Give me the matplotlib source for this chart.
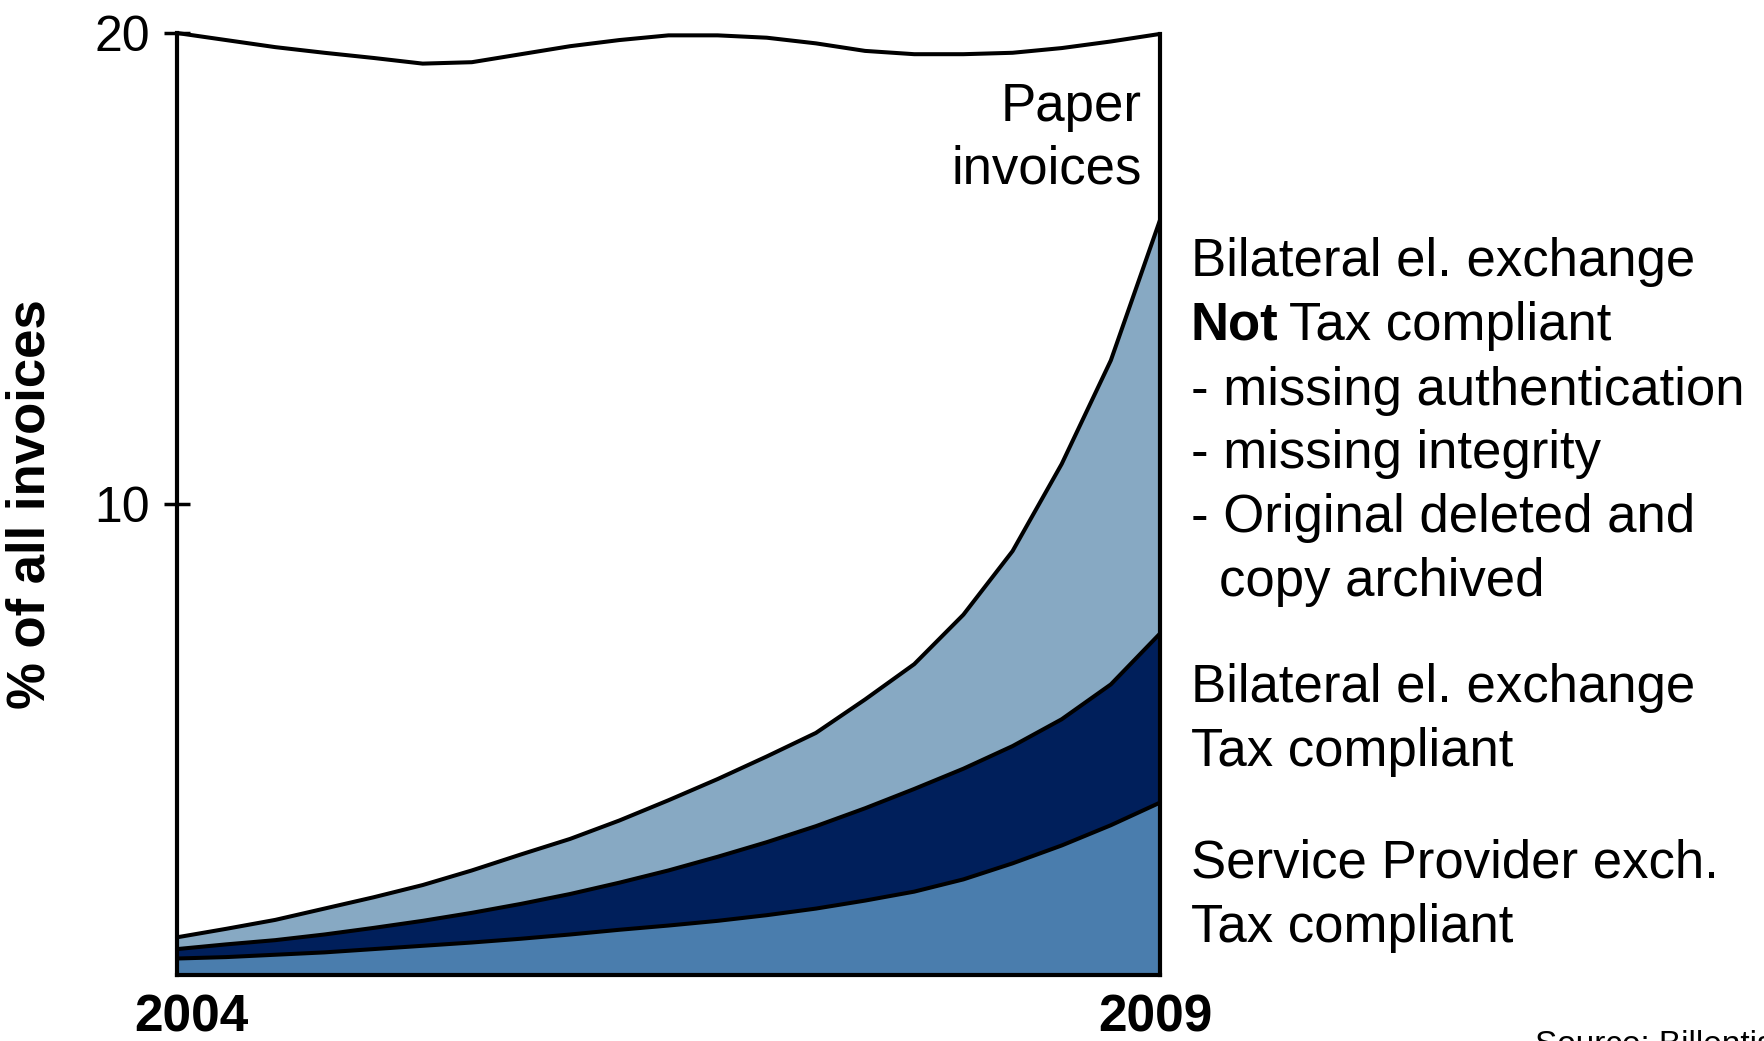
import numpy as np
import matplotlib.pyplot as plt
import matplotlib.transforms as mtransforms

plt.rcParams['font.family'] = ['Liberation Sans', 'DejaVu Sans']

# quarter-year steps from 2004 to 2009
years = np.linspace(2004, 2009, 21)

# layer heights (% of all invoices), bottom to top
service_provider = [0.35, 0.38, 0.43, 0.48, 0.55, 0.62, 0.69, 0.77, 0.86, 0.96, 1.05,
                    1.15, 1.27, 1.41, 1.58, 1.77, 2.03, 2.37, 2.75, 3.18, 3.66]
bilateral_compliant = [0.20, 0.27, 0.31, 0.38, 0.45, 0.53, 0.63, 0.74, 0.86, 1.00, 1.17,
                       1.36, 1.55, 1.75, 1.96, 2.18, 2.35, 2.49, 2.68, 2.99, 3.59]
bilateral_not_compliant = [0.25, 0.33, 0.43, 0.55, 0.65, 0.76, 0.90, 1.05, 1.17, 1.32, 1.49,
                           1.65, 1.82, 1.98, 2.31, 2.65, 3.27, 4.14, 5.42, 6.88, 8.78]
paper = [19.20, 18.87, 18.53, 18.17, 17.82, 17.44, 17.16, 16.99, 16.83, 16.57, 16.24,
         15.79, 15.26, 14.64, 13.77, 12.95, 11.90, 10.58, 8.83, 6.77, 3.95]

layers = [service_provider, bilateral_compliant, bilateral_not_compliant, paper]
colors = ['#4A7DAD', '#001F5B', '#87A9C3', 'white']

fig = plt.figure(figsize=(17.64, 10.41), dpi=100)
ax = fig.add_axes([0.1003, 0.0634, 0.5573, 0.9049])

ax.stackplot(years, *layers, colors=colors, linewidth=0)

# black boundaries between the layers
cum = np.cumsum(np.array(layers), axis=0)
for row in cum:
    ax.plot(years, row, color='black', lw=2.9, zorder=3, clip_on=False,
            solid_capstyle='round', solid_joinstyle='round')
ax.plot([years[-1], years[-1]], [0, cum[-1][-1]], color='black', lw=3,
        zorder=3, clip_on=False, solid_capstyle='projecting')

ax.set_xlim(2004, 2009)
ax.set_ylim(0, 20)

for s in ['top', 'right']:
    ax.spines[s].set_visible(False)
for s in ['left', 'bottom']:
    ax.spines[s].set_linewidth(3)
    ax.spines[s].set_zorder(4)

ax.set_yticks([10, 20])
ax.set_yticklabels(['10', '20'], fontsize=36)
ax.tick_params(axis='y', direction='inout', length=19, width=2.5, pad=10)

ax.set_xticks([2004, 2009])
ax.set_xticklabels(['2004', '2009'], fontsize=37, fontweight='bold')
ax.tick_params(axis='x', length=0, pad=13)
for lab, dx in zip(ax.get_xticklabels(), [0.14, -0.05]):
    lab.set_transform(lab.get_transform() +
                      mtransforms.ScaledTranslation(dx, 0, fig.dpi_scale_trans))

ax.set_ylabel('% of all invoices', fontsize=38, fontweight='bold', labelpad=28)

# labels inside / right of the plot
def px(x, y):
    return x / 1764, 1 - y / 1041

fs = 38
fig.text(*px(1142, 121), 'Paper', fontsize=fs, ha='right', va='baseline')
fig.text(*px(1142, 184), 'invoices', fontsize=fs, ha='right', va='baseline')

fig.text(*px(1191, 276), 'Bilateral el. exchange', fontsize=fs, va='baseline')
t = fig.text(*px(1191, 340), 'Not', fontsize=fs, fontweight='bold', va='baseline')
fig.canvas.draw()
bb = t.get_window_extent()
fig.text(bb.x1 / 1764 + 0.006, 1 - 340 / 1041, 'Tax compliant', fontsize=fs, va='baseline')
fig.text(*px(1191, 405), '- missing authentication', fontsize=fs, va='baseline')
fig.text(*px(1191, 468), '- missing integrity', fontsize=fs, va='baseline')
fig.text(*px(1191, 532), '- Original deleted and', fontsize=fs, va='baseline')
fig.text(*px(1219, 596), 'copy archived', fontsize=fs, va='baseline')

fig.text(*px(1191, 702), 'Bilateral el. exchange', fontsize=fs, va='baseline')
fig.text(*px(1191, 766), 'Tax compliant', fontsize=fs, va='baseline')

fig.text(*px(1191, 878), 'Service Provider exch.', fontsize=fs, va='baseline')
fig.text(*px(1191, 942), 'Tax compliant', fontsize=fs, va='baseline')

fig.text(*px(1535, 1030), 'Source: Billentis', fontsize=24, va='top')

fig.savefig('out.png', dpi=100)
